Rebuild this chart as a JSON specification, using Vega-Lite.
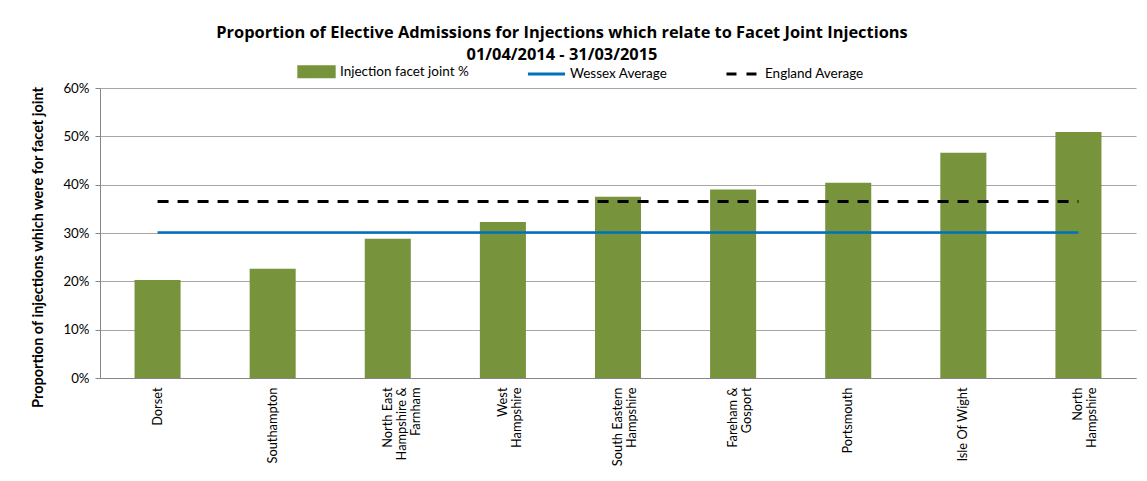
{
  "$schema": "https://vega.github.io/schema/vega-lite/v6.json",
  "width": 1036,
  "height": 290,
  "autosize": {"type": "none"},
  "padding": {"left": 100, "top": 88, "right": 11, "bottom": 103},
  "background": "white",
  "config": {"view": {"stroke": null}, "font": "Lato"},
  "title": {
    "text": ["Proportion of Elective Admissions for Injections which relate to Facet Joint Injections", "01/04/2014 - 31/03/2015"],
    "font": "Open Sans",
    "fontSize": 16.4,
    "fontWeight": "bold",
    "color": "#000000",
    "anchor": "middle",
    "frame": "group",
    "dx": -56,
    "dy": 37,
    "lineHeight": 22,
    "offset": 26
  },
  "data": {
    "values": [
      {"region": "Dorset", "value": 0.203, "wessex": 0.301, "england": 0.365},
      {"region": "Southampton", "value": 0.226, "wessex": 0.301, "england": 0.365},
      {"region": "North East|Hampshire &|Farnham", "value": 0.288, "wessex": 0.301, "england": 0.365},
      {"region": "West|Hampshire", "value": 0.323, "wessex": 0.301, "england": 0.365},
      {"region": "South Eastern|Hampshire", "value": 0.375, "wessex": 0.301, "england": 0.365},
      {"region": "Fareham &|Gosport", "value": 0.39, "wessex": 0.301, "england": 0.365},
      {"region": "Portsmouth", "value": 0.404, "wessex": 0.301, "england": 0.365},
      {"region": "Isle Of Wight", "value": 0.466, "wessex": 0.301, "england": 0.365},
      {"region": "North|Hampshire", "value": 0.509, "wessex": 0.301, "england": 0.365}
    ]
  },
  "encoding": {
    "x": {
      "field": "region",
      "type": "nominal",
      "sort": null,
      "scale": {"paddingInner": 0.6, "paddingOuter": 0.3},
      "axis": {
        "title": null,
        "labelAngle": -90,
        "labelExpr": "split(datum.label, '|')",
        "labelFontSize": 12.8,
        "labelLineHeight": 14,
        "labelColor": "#000000",
        "labelPadding": 9,
        "labelLimit": 300,
        "ticks": false,
        "domainColor": "#868686",
        "grid": false
      }
    }
  },
  "layer": [
    {
      "mark": {"type": "bar"},
      "encoding": {
        "y": {
          "field": "value",
          "type": "quantitative",
          "scale": {"domain": [0, 0.6]},
          "axis": {
            "title": "Proportion of injections which were for facet joint",
            "titleFontSize": 14.5,
            "titleFontWeight": "bold",
            "titleColor": "#000000",
            "titleAngle": -90,
            "titleX": -62,
            "titleY": 159,
            "titleAlign": "center",
            "titleBaseline": "middle",
            "format": ".0%",
            "values": [0, 0.1, 0.2, 0.3, 0.4, 0.5, 0.6],
            "labelFontSize": 13.3,
            "labelColor": "#000000",
            "labelPadding": 6,
            "tickSize": 5,
            "tickColor": "#868686",
            "domainColor": "#868686",
            "gridColor": "#A6A6A6",
            "gridWidth": 1.2
          }
        },
        "color": {
          "datum": "Injection facet joint %",
          "scale": {
            "domain": ["Injection facet joint %", "Wessex Average", "England Average"],
            "range": ["#77933C", "#0070C0", "#000000"]
          },
          "legend": {
            "orient": "none",
            "legendX": 197,
            "legendY": -36,
            "direction": "horizontal",
            "title": null,
            "labelFontSize": 13.5,
            "labelColor": "#000000",
            "labelOffset": 4,
            "labelExpr": "datum.label === 'Wessex Average' ? datum.label + '    ' : datum.label",
            "columnPadding": 52,
            "symbolSize": 1250,
            "encode": {
              "symbols": {
                "update": {
                  "shape": {"signal": "datum.value === 'Injection facet joint %' ? 'M-1,-0.28H1V0.28H-1Z' : (datum.value === 'Wessex Average' ? 'M-1.05,0H1.05' : 'M-0.85,0H0.85')"},
                  "fill": {"signal": "datum.value === 'Injection facet joint %' ? '#77933C' : 'transparent'"},
                  "stroke": {"signal": "datum.value === 'Injection facet joint %' ? 'transparent' : (datum.value === 'Wessex Average' ? '#0070C0' : '#000000')"},
                  "strokeWidth": {"value": 3},
                  "strokeDash": {"signal": "datum.value === 'England Average' ? [10, 10] : [1, 0]"},
                  "opacity": {"value": 1}
                }
              }
            }
          }
        }
      }
    },
    {
      "mark": {"type": "line", "strokeWidth": 2.6},
      "encoding": {
        "y": {"field": "wessex", "type": "quantitative", "axis": {"title": "Proportion of injections which were for facet joint"}},
        "color": {"datum": "Wessex Average"}
      }
    },
    {
      "mark": {"type": "line", "strokeWidth": 3, "strokeDash": [11, 9]},
      "encoding": {
        "y": {"field": "england", "type": "quantitative", "axis": {"title": "Proportion of injections which were for facet joint"}},
        "color": {"datum": "England Average"}
      }
    }
  ]
}
